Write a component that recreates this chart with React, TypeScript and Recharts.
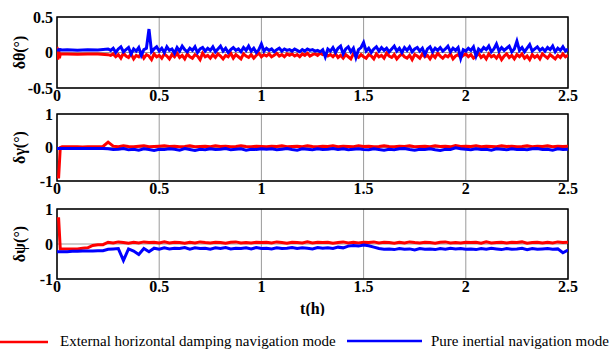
import React from 'react';
import { LineChart, Line, XAxis, YAxis, CartesianGrid, ReferenceArea } from 'recharts';

const FONT = '"Liberation Serif", "Times New Roman", serif';
const RED = '#ff0000';
const BLUE = '#0000ff';

// time in hours (pitch panel, sampled finer)
const TH = [
  0, 0.004, 0.008, 0.012, 0.016, 0.025, 0.05, 0.1, 0.15, 0.2, 0.25,
  0.2625, 0.275, 0.2875, 0.3, 0.3125, 0.325, 0.3375, 0.35, 0.3625, 0.375,
  0.3875, 0.4, 0.4125, 0.425, 0.4375, 0.45, 0.4625, 0.475, 0.4875, 0.5,
  0.5125, 0.525, 0.5375, 0.55, 0.5625, 0.575, 0.5875, 0.6, 0.6125, 0.625,
  0.6375, 0.65, 0.6625, 0.675, 0.6875, 0.7, 0.7125, 0.725, 0.7375, 0.75,
  0.7625, 0.775, 0.7875, 0.8, 0.8125, 0.825, 0.8375, 0.85, 0.8625, 0.875,
  0.8875, 0.9, 0.9125, 0.925, 0.9375, 0.95, 0.9625, 0.975, 0.9875, 1.0,
  1.0125, 1.025, 1.0375, 1.05, 1.0625, 1.075, 1.0875, 1.1, 1.1125, 1.125,
  1.1375, 1.15, 1.1625, 1.175, 1.1875, 1.2, 1.2125, 1.225, 1.2375, 1.25,
  1.2625, 1.275, 1.2875, 1.3, 1.3125, 1.325, 1.3375, 1.35, 1.3625, 1.375,
  1.3875, 1.4, 1.4125, 1.425, 1.4375, 1.45, 1.4625, 1.475, 1.4875, 1.5,
  1.5125, 1.525, 1.5375, 1.55, 1.5625, 1.575, 1.5875, 1.6, 1.6125, 1.625,
  1.6375, 1.65, 1.6625, 1.675, 1.6875, 1.7, 1.7125, 1.725, 1.7375, 1.75,
  1.7625, 1.775, 1.7875, 1.8, 1.8125, 1.825, 1.8375, 1.85, 1.8625, 1.875,
  1.8875, 1.9, 1.9125, 1.925, 1.9375, 1.95, 1.9625, 1.975, 1.9875, 2.0,
  2.0125, 2.025, 2.0375, 2.05, 2.0625, 2.075, 2.0875, 2.1, 2.1125, 2.125,
  2.1375, 2.15, 2.1625, 2.175, 2.1875, 2.2, 2.2125, 2.225, 2.2375, 2.25,
  2.2625, 2.275, 2.2875, 2.3, 2.3125, 2.325, 2.3375, 2.35, 2.3625, 2.375,
  2.3875, 2.4, 2.4125, 2.425, 2.4375, 2.45, 2.4625, 2.475, 2.4875, 2.5,
];

// time in hours (roll / heading panels)
const T = [
  0, 0.008, 0.016, 0.025,
  0.05, 0.075, 0.1, 0.125, 0.15, 0.175, 0.2, 0.225, 0.25, 0.275, 0.3, 0.325, 0.35, 0.375, 0.4, 0.425, 0.45, 0.475, 0.5,
  0.525, 0.55, 0.575, 0.6, 0.625, 0.65, 0.675, 0.7, 0.725, 0.75, 0.775, 0.8, 0.825, 0.85, 0.875, 0.9, 0.925, 0.95, 0.975, 1.0,
  1.025, 1.05, 1.075, 1.1, 1.125, 1.15, 1.175, 1.2, 1.225, 1.25, 1.275, 1.3, 1.325, 1.35, 1.375, 1.4, 1.425, 1.45, 1.475, 1.5,
  1.525, 1.55, 1.575, 1.6, 1.625, 1.65, 1.675, 1.7, 1.725, 1.75, 1.775, 1.8, 1.825, 1.85, 1.875, 1.9, 1.925, 1.95, 1.975, 2.0,
  2.025, 2.05, 2.075, 2.1, 2.125, 2.15, 2.175, 2.2, 2.225, 2.25, 2.275, 2.3, 2.325, 2.35, 2.375, 2.4, 2.425, 2.45, 2.475, 2.5,
];

// delta theta (deg)
const thetaDamp = [
  0.08, -0.1, 0.06, -0.08, -0.02, -0.02, -0.02, -0.025, -0.02, -0.022, -0.03,
  -0.04, -0.02, -0.06, -0.03, -0.08, -0.01, -0.05, -0.07, -0.02, -0.09,
  -0.04, -0.06, -0.01, -0.08, -0.03, -0.05, -0.1, -0.02, -0.06, -0.04,
  -0.08, -0.02, -0.05, -0.09, -0.03, -0.06, -0.01, -0.07, -0.04, -0.09,
  -0.02, -0.06, -0.08, -0.03, -0.05, -0.1, -0.01, -0.06, -0.04, -0.08,
  -0.03, -0.07, -0.02, -0.05, -0.09, -0.04, -0.06, -0.01, -0.08, -0.03,
  -0.06, -0.09, -0.02, -0.05, -0.07, -0.03, -0.08, -0.04, -0.01, -0.06,
  -0.03, -0.05, -0.02, -0.06, -0.04, -0.01, -0.05, -0.03, -0.06, -0.02,
  -0.04, -0.02, -0.05, -0.03, -0.06, -0.02, -0.04, -0.01, -0.05, -0.03,
  -0.02, -0.04, -0.01, -0.03, -0.02, -0.05, -0.03, -0.06, -0.02, -0.07,
  -0.04, -0.08, -0.03, -0.06, -0.09, -0.02, -0.05, -0.07, -0.03, -0.06,
  -0.08, -0.03, -0.05, -0.09, -0.02, -0.06, -0.04, -0.08, -0.01, -0.05,
  -0.07, -0.03, -0.09, -0.05, -0.02, -0.06, -0.08, -0.04, -0.1, -0.03,
  -0.05, -0.08, -0.02, -0.06, -0.04, -0.09, -0.03, -0.07, -0.01, -0.05,
  -0.08, -0.04, -0.06, -0.02, -0.09, -0.05, -0.03, -0.07, -0.04, -0.02,
  -0.06, -0.03, -0.08, -0.05, -0.01, -0.07, -0.04, -0.09, -0.02, -0.06,
  -0.04, -0.08, -0.03, -0.1, -0.05, -0.02, -0.07, -0.04, -0.09, -0.03,
  -0.06, -0.02, -0.08, -0.05, -0.1, -0.03, -0.07, -0.04, -0.09, -0.02,
  -0.05, -0.08, -0.03, -0.06, -0.09, -0.04, -0.07, -0.02, -0.06, -0.04,
];
const thetaPure = [
  0.04, 0.035, 0.04, 0.035, 0.04, 0.035, 0.04, 0.03, 0.04, 0.035, 0.05,
  0.03, 0.06, 0.0, 0.05, 0.08, 0.01, 0.04, 0.07, -0.02, 0.05,
  0.02, 0.07, -0.04, 0.04, 0.06, 0.33, 0.01, 0.05, 0.08, 0.02,
  0.06, 0.0, 0.08, 0.03, 0.05, -0.01, 0.07, 0.02, 0.09, 0.04,
  0.01, 0.06, 0.03, 0.08, 0.0, 0.05, 0.07, 0.02, 0.06, 0.03,
  0.08, 0.01, 0.05, 0.09, 0.02, 0.06, 0.0, 0.04, 0.07, 0.03,
  0.05, 0.01, 0.07, 0.03, 0.09, 0.02, 0.06, 0.0, 0.04, 0.12,
  0.02, 0.06, 0.03, 0.05, 0.01, 0.04, 0.06, 0.02, 0.05, 0.03,
  0.04, 0.02, 0.05, 0.03, 0.01, 0.04, 0.02, 0.05, 0.03, 0.04,
  0.02, 0.03, 0.01, 0.04, -0.06, 0.05, 0.02, 0.07, 0.0, 0.06,
  0.09, -0.02, 0.05, 0.08, 0.01, 0.06, -0.07, 0.04, 0.07, 0.14,
  0.02, 0.06, 0.0, 0.05, 0.08, 0.02, 0.07, 0.03, 0.06, 0.01,
  0.05, 0.09, 0.02, 0.06, 0.0, 0.07, 0.03, 0.08, 0.01, 0.05,
  0.07, 0.02, 0.06, -0.03, 0.05, 0.08, 0.01, 0.06, 0.03, 0.07,
  0.02, 0.05, 0.09, 0.01, 0.06, 0.03, 0.07, -0.08, 0.04, 0.02,
  0.06, 0.03, 0.08, -0.05, 0.05, 0.02, 0.07, 0.04, 0.09, 0.01,
  0.05, 0.12, 0.02, 0.07, 0.03, 0.06, 0.09, 0.01, 0.05, 0.16,
  0.03, 0.07, 0.01, 0.06, 0.11, 0.02, 0.05, 0.08, 0.03, 0.06,
  0.02, 0.07, 0.04, 0.09, 0.01, 0.06, 0.03, 0.08, 0.02, 0.05,
];

// delta gamma (deg)
const gammaDamp = [
  -0.88, -0.88, 0.0, 0.02,
  0.02, 0.025, 0.02, 0.018, 0.025, 0.02, 0.022, 0.03,
  0.16, 0.04, 0.02, 0.05, 0.03, 0.02, 0.04, 0.05, 0.02, 0.03, 0.04,
  0.05, 0.03, 0.04, 0.02, 0.03, 0.05, 0.02, 0.03, 0.04, 0.02, 0.05, 0.03, 0.04, 0.02, 0.03, 0.05, 0.03, 0.02, 0.04, 0.03,
  0.02, 0.04, 0.03, 0.05, 0.02, 0.03, 0.04, 0.02, 0.05, 0.03, 0.02, 0.04, 0.03, 0.05, 0.02, 0.04, 0.03, 0.02, 0.05, 0.03,
  0.04, 0.02, 0.03, 0.05, 0.03, 0.02, 0.04, 0.03, 0.05, 0.02, 0.03, 0.04, 0.02, 0.05, 0.03, 0.04, 0.02, 0.06, 0.03, 0.04,
  0.03, 0.05, 0.02, 0.04, 0.03, 0.02, 0.05, 0.03, 0.04, 0.02, 0.03, 0.05, 0.02, 0.04, 0.03, 0.05, 0.02, 0.04, 0.03, 0.04,
];
const gammaPure = [
  -0.03, -0.03, -0.03, -0.03,
  -0.03, -0.028, -0.03, -0.032, -0.03, -0.028, -0.03, -0.03,
  -0.04, -0.06, -0.05, -0.03, -0.07, -0.05, -0.08, -0.04, -0.06, -0.09, -0.05,
  -0.06, -0.04, -0.05, -0.08, -0.03, -0.06, -0.09, -0.05, -0.07, -0.04, -0.06, -0.05, -0.03, -0.07, -0.05, -0.04, -0.08, -0.05, -0.06, -0.04,
  -0.05, -0.04, -0.07, -0.05, -0.03, -0.06, -0.08, -0.04, -0.05, -0.07, -0.04, -0.06, -0.05, -0.03, -0.06, -0.04, -0.07, -0.05, -0.04, -0.06,
  -0.07, -0.04, -0.06, -0.08, -0.05, -0.07, -0.04, -0.03, -0.06, -0.08, -0.05, -0.06, -0.04, -0.07, -0.09, -0.05, -0.06, -0.01, -0.04, -0.05,
  -0.07, -0.04, -0.06, -0.05, -0.08, -0.04, -0.05, -0.07, -0.04, -0.06, -0.05, -0.07, -0.04, -0.03, -0.06, -0.05, -0.08, -0.04, -0.06, -0.05,
];

// delta psi (deg)
const psiDamp = [
  0.72, 0.72, -0.14, -0.14,
  -0.14, -0.14, -0.14, -0.12, -0.11, -0.04, -0.02, -0.02,
  0.05, 0.03, 0.06, 0.04, 0.02, 0.05, 0.03, 0.06, 0.04, 0.05, 0.03,
  0.06, 0.03, 0.05, 0.04, 0.02, 0.05, 0.03, 0.06, 0.04, 0.03, 0.05, 0.04, 0.02, 0.05, 0.06, 0.03, 0.04, 0.03, 0.05, 0.04,
  0.05, 0.03, 0.06, 0.04, 0.02, 0.05, 0.04, 0.03, 0.06, 0.03, 0.05, 0.04, 0.05, 0.02, 0.04, 0.06, 0.03, 0.05, 0.03, 0.05,
  0.04, 0.06, 0.03, 0.05, 0.04, 0.02, 0.05, 0.03, 0.06, 0.04, 0.03, 0.05, 0.04, 0.02, 0.05, 0.06, 0.03, 0.04, 0.03, 0.05,
  0.04, 0.05, 0.02, 0.06, 0.03, 0.04, 0.05, 0.03, 0.05, 0.04, 0.06, 0.02, 0.04, 0.05, 0.03, 0.05, 0.03, 0.06, 0.04, 0.05,
];
const psiPure = [
  -0.22, -0.22, -0.22, -0.22,
  -0.22, -0.21, -0.21, -0.2, -0.2, -0.2, -0.19, -0.19,
  -0.15, -0.14, -0.13, -0.47, -0.14, -0.2, -0.3, -0.13, -0.22, -0.12, -0.15,
  -0.11, -0.14, -0.12, -0.13, -0.1, -0.15, -0.11, -0.13, -0.12, -0.15, -0.11, -0.13, -0.1, -0.14, -0.12, -0.13, -0.11, -0.14, -0.1, -0.13,
  -0.12, -0.14, -0.11, -0.13, -0.12, -0.1, -0.13, -0.11, -0.12, -0.14, -0.1, -0.12, -0.11, -0.13, -0.09, -0.11, -0.06, -0.04, -0.06, -0.03,
  -0.05, -0.09, -0.13, -0.15, -0.14, -0.16, -0.13, -0.15, -0.14, -0.17, -0.13, -0.15, -0.14, -0.16, -0.13, -0.15, -0.12, -0.14, -0.13, -0.15,
  -0.14, -0.16, -0.13, -0.15, -0.12, -0.14, -0.16, -0.13, -0.15, -0.14, -0.12, -0.16, -0.13, -0.15, -0.14, -0.13, -0.15, -0.14, -0.25, -0.17,
];

const X_TICKS = [0, 0.5, 1, 1.5, 2, 2.5];

const tickStyle = { fill: '#000', fontSize: 16, fontWeight: 'bold', fontFamily: FONT };

interface PanelProps {
  time: number[];
  damp: number[];
  pure: number[];
  yDomain: [number, number];
  yTicks: number[];
  yLabel: string;
  top: number;
  height: number;
  marginTop: number;
  plotHeight: number;
  lineWidth: number;
  xLabel?: string;
}

const Panel: React.FC<PanelProps> = ({ time, damp, pure, yDomain, yTicks, yLabel, top, height, marginTop, plotHeight, lineWidth, xLabel }) => {
  const data = time.map((t, i) => ({ t, damp: damp[i], pure: pure[i] }));
  return (
    <div style={{ position: 'absolute', left: 0, top, width: 613, height }}>
      <LineChart width={613} height={height} data={data} margin={{ top: marginTop, right: 45, bottom: 0, left: 0 }}>
        <CartesianGrid stroke="#9a9a9a" strokeWidth={1} />
        <XAxis
          dataKey="t"
          type="number"
          domain={[0, 2.5]}
          ticks={X_TICKS}
          allowDataOverflow
          height={height - marginTop - plotHeight}
          tickSize={0}
          tickMargin={2}
          tickLine={false}
          axisLine={false}
          tick={tickStyle}
          label={xLabel ? { value: xLabel, position: 'insideBottom', offset: 2, style: tickStyle } : undefined}
        />
        <YAxis
          type="number"
          domain={yDomain}
          ticks={yTicks}
          allowDataOverflow
          width={57}
          tickSize={0}
          tickMargin={4}
          tickLine={false}
          axisLine={false}
          tick={tickStyle}
          label={{ value: yLabel, angle: -90, position: 'insideLeft', offset: 19, style: { ...tickStyle, textAnchor: 'middle' } }}
        />
        <Line type="linear" dataKey="damp" stroke={RED} strokeWidth={lineWidth} dot={false} isAnimationActive={false} />
        <Line type="linear" dataKey="pure" stroke={BLUE} strokeWidth={lineWidth} dot={false} isAnimationActive={false} />
        <ReferenceArea x1={0} x2={2.5} y1={yDomain[0]} y2={yDomain[1]} fill="none" stroke="#000" strokeWidth={1.5} />
      </LineChart>
    </div>
  );
};

export default function App() {
  return (
    <div style={{ position: 'absolute', left: 0, top: 0, width: 613, height: 350, background: '#fff', overflow: 'hidden' }}>
      <Panel time={TH} damp={thetaDamp} pure={thetaPure} yDomain={[-0.5, 0.5]} yTicks={[-0.5, 0, 0.5]} yLabel="δθ(°)"
        top={0} height={110} marginTop={17} plotHeight={71} lineWidth={3} />
      <Panel time={T} damp={gammaDamp} pure={gammaPure} yDomain={[-1, 1]} yTicks={[-1, 0, 1]} yLabel="δγ(°)"
        top={100} height={110} marginTop={14} plotHeight={67} lineWidth={3} />
      <Panel time={T} damp={psiDamp} pure={psiPure} yDomain={[-1, 1]} yTicks={[-1, 0, 1]} yLabel="δψ(°)"
        top={200} height={116} marginTop={9} plotHeight={70} lineWidth={3} xLabel="t(h)" />
      <svg width={613} height={30} style={{ position: 'absolute', left: 0, top: 325 }}>
        <line x1={0} x2={48} y1={17} y2={17} stroke={RED} strokeWidth={2.5} />
        <text x={60} y={21} fontFamily={FONT} fontSize={15} fill="#000">External horizontal damping navigation mode</text>
        <line x1={347} x2={422} y1={16} y2={16} stroke={BLUE} strokeWidth={2.5} />
        <text x={431} y={21} fontFamily={FONT} fontSize={15} fill="#000">Pure inertial navigation mode</text>
      </svg>
    </div>
  );
}
